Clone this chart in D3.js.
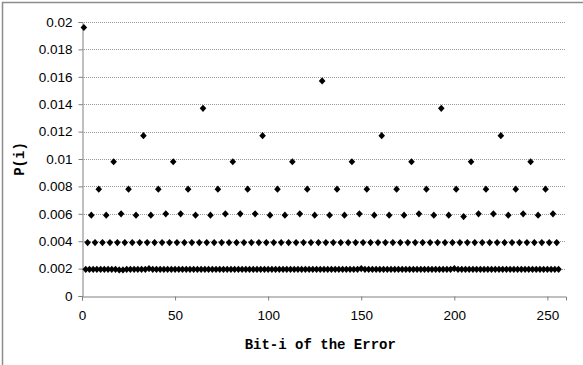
<!DOCTYPE html>
<html>
<head>
<meta charset="utf-8">
<script src="https://cdn.jsdelivr.net/npm/d3@7"></script>
<style>
  body { margin: 0; background: #fff; }
</style>
</head>
<body>
<div id="chart"></div>
<script>
// P(i) for bit i = 1..256 (16 bits per row)
const pValues = [
  0.0196, 0.00195, 0.0039, 0.00195, 0.0059, 0.00195, 0.0039, 0.00195, 0.0078, 0.00195, 0.0039, 0.00195, 0.0059, 0.00195, 0.0039, 0.00195,
  0.0098, 0.00195, 0.0039, 0.0019,  0.0060, 0.0019,  0.0039, 0.00195, 0.0078, 0.00195, 0.0039, 0.00195, 0.0059, 0.00195, 0.0039, 0.00195,
  0.0117, 0.00195, 0.0039, 0.0020,  0.0059, 0.00195, 0.0039, 0.00195, 0.0078, 0.00195, 0.0039, 0.00195, 0.0060, 0.00195, 0.0039, 0.00195,
  0.0098, 0.00195, 0.0039, 0.00195, 0.0060, 0.00195, 0.0039, 0.00195, 0.0078, 0.00195, 0.0039, 0.00195, 0.0059, 0.00195, 0.0039, 0.00195,
  0.0137, 0.00195, 0.0039, 0.00195, 0.0059, 0.00195, 0.0039, 0.00195, 0.0078, 0.00195, 0.0039, 0.00195, 0.0060, 0.00195, 0.0039, 0.00195,
  0.0098, 0.00195, 0.0039, 0.00195, 0.0060, 0.00195, 0.0039, 0.00195, 0.0078, 0.00195, 0.0039, 0.00195, 0.0060, 0.00195, 0.0039, 0.00195,
  0.0117, 0.00195, 0.0039, 0.00195, 0.0059, 0.00195, 0.0039, 0.00195, 0.0078, 0.00195, 0.0039, 0.00195, 0.0059, 0.00195, 0.0039, 0.00195,
  0.0098, 0.00195, 0.0039, 0.00195, 0.0060, 0.00195, 0.0039, 0.00195, 0.0078, 0.00195, 0.0039, 0.00195, 0.0059, 0.00195, 0.0039, 0.00195,
  0.0157, 0.00195, 0.0039, 0.00195, 0.0059, 0.00195, 0.0039, 0.00195, 0.0078, 0.00195, 0.0039, 0.00195, 0.0059, 0.00195, 0.0039, 0.00195,
  0.0098, 0.00195, 0.0039, 0.00195, 0.0060, 0.0020,  0.0039, 0.00195, 0.0078, 0.00195, 0.0039, 0.00195, 0.0059, 0.00195, 0.0039, 0.00195,
  0.0117, 0.00195, 0.0039, 0.00195, 0.0059, 0.00195, 0.0039, 0.00195, 0.0078, 0.00195, 0.0039, 0.00195, 0.0059, 0.00195, 0.0039, 0.00195,
  0.0098, 0.00195, 0.0039, 0.00195, 0.0060, 0.00195, 0.0039, 0.00195, 0.0078, 0.00195, 0.0039, 0.00195, 0.0059, 0.00195, 0.0039, 0.00195,
  0.0137, 0.00195, 0.0039, 0.00195, 0.0059, 0.00195, 0.0039, 0.0020,  0.0078, 0.00195, 0.0039, 0.00195, 0.0058, 0.00195, 0.0039, 0.00195,
  0.0098, 0.00195, 0.0039, 0.00195, 0.0060, 0.00195, 0.0039, 0.00195, 0.0078, 0.00195, 0.0039, 0.00195, 0.0060, 0.00195, 0.0039, 0.00195,
  0.0117, 0.00195, 0.0039, 0.00195, 0.0059, 0.00195, 0.0039, 0.00195, 0.0078, 0.00195, 0.0039, 0.00195, 0.0060, 0.00195, 0.0039, 0.00195,
  0.0098, 0.00195, 0.0039, 0.00195, 0.0059, 0.00195, 0.0039, 0.00195, 0.0078, 0.00195, 0.0039, 0.00195, 0.0060, 0.00195, 0.0039, 0.00195
];
const firstBit = 1;

const xTicks = [0, 50, 100, 150, 200, 250];
const yTicks = [0, 0.002, 0.004, 0.006, 0.008, 0.01, 0.012, 0.014, 0.016, 0.018, 0.02];
const yTickLabels = ["0", "0.002", "0.004", "0.006", "0.008", "0.01", "0.012", "0.014", "0.016", "0.018", "0.02"];
const xTitle = "Bit-i of the Error";
const yTitle = "P(i)";

let svgWidth = 583, svgHeight = 365;
let margin = {top: 22, right: 17, bottom: 69, left: 82},
    width = svgWidth - margin.left - margin.right,
    height = svgHeight - margin.top - margin.bottom;

let svg = d3.select("#chart").append("svg")
    .attr("width", svgWidth)
    .attr("height", svgHeight);

// outer chart frame
svg.append("rect")
    .attr("x", 2.5).attr("y", 2.5)
    .attr("width", svgWidth + 20).attr("height", svgHeight + 20)
    .attr("fill", "none")
    .attr("stroke", "#8c8c8c")
    .attr("stroke-width", 1.5);

let x = d3.scaleLinear().domain([0, 260]).range([0, width]),
    y = d3.scaleLinear().domain([0, 0.02]).range([height, 0]);

let g = svg.append("g")
    .attr("transform", "translate(" + margin.left + "," + margin.top + ")");

// dotted gridlines
g.append("g").selectAll("line")
    .data(yTicks.filter(d => d > 0))
    .enter().append("line")
      .attr("x1", 0).attr("x2", width)
      .attr("y1", d => Math.round(y(d)) + 0.5)
      .attr("y2", d => Math.round(y(d)) + 0.5)
      .attr("stroke", "#999")
      .attr("stroke-dasharray", "1,1");

// y axis
let yAxis = g.append("g")
    .attr("class", "axis axis--y")
    .attr("transform", "translate(0.5,0)")
    .call(d3.axisLeft(y).tickValues(yTicks).tickSizeOuter(0).tickSize(4).tickPadding(6)
      .tickFormat((d, i) => yTickLabels[i]));

// x axis
let xAxis = g.append("g")
    .attr("class", "axis axis--x")
    .attr("transform", "translate(0," + (Math.round(height) + 0.5) + ")")
    .call(d3.axisBottom(x).tickValues(xTicks).tickSizeOuter(0).tickSize(4).tickPadding(10));

svg.selectAll(".axis path, .axis line").attr("stroke", "#808080");
svg.selectAll(".axis text")
    .attr("fill", "#000")
    .style("font-family", "Liberation Sans, Arial, sans-serif")
    .style("font-size", "13.5px");

// diamond markers
g.selectAll(".pt")
    .data(pValues)
    .enter().append("path")
      .attr("class", "pt")
      .attr("d", "M0,-3.6L3.3,0L0,3.6L-3.3,0Z")
      .attr("fill", "#000")
      .attr("transform", (d, i) => "translate(" + x(firstBit + i) + "," + y(d) + ")");

// axis titles
svg.append("text")
    .attr("x", margin.left + x(128))
    .attr("y", 349)
    .attr("text-anchor", "middle")
    .style("font-family", "Liberation Mono, Courier New, monospace")
    .style("font-weight", "bold")
    .style("font-size", "14px")
    .text(xTitle);

svg.append("text")
    .attr("transform", "translate(24," + (margin.top + height / 2) + ") rotate(-90)")
    .attr("text-anchor", "middle")
    .style("font-family", "Liberation Mono, Courier New, monospace")
    .style("font-weight", "bold")
    .style("font-size", "14px")
    .text(yTitle);
</script>
</body>
</html>
